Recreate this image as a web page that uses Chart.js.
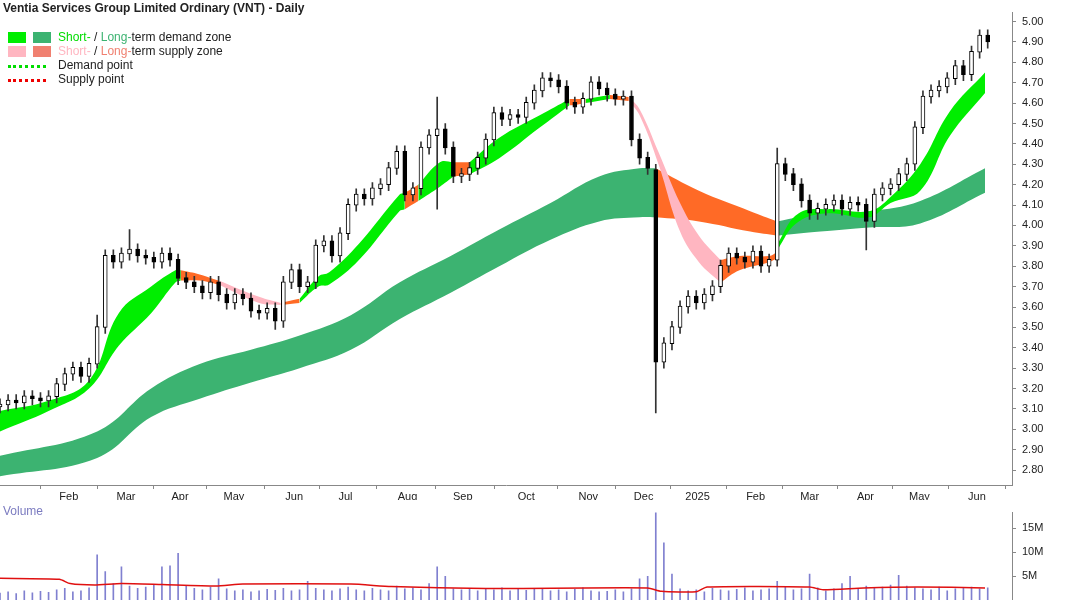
<!DOCTYPE html>
<html><head><meta charset="utf-8">
<script src="https://cdn.jsdelivr.net/npm/chart.js@4/dist/chart.umd.min.js"></script>
<style>
body{margin:0;background:#fff;font-family:Arial,"Liberation Sans",sans-serif;overflow:hidden;}
#wrap{position:relative;width:1066px;height:600px;overflow:hidden;}
canvas{position:absolute;left:0;}
.t{position:absolute;font-size:12px;color:#222;white-space:nowrap;}
.sw{position:absolute;width:18px;height:11px;}
.dl{position:absolute;width:38px;border-top:3px dotted;}
</style></head><body>
<div id="wrap">
<canvas id="price" style="top:0" width="1066" height="500"></canvas>
<canvas id="vol" style="top:500px" width="1066" height="113"></canvas>
<div class="t" style="left:3px;top:1px;font-weight:bold">Ventia Services Group Limited Ordinary (VNT) - Daily</div>
<div class="sw" style="left:8px;top:32px;background:#00ee00"></div>
<div class="sw" style="left:33px;top:32px;background:#3cb371"></div>
<div class="t" style="left:58px;top:30px"><span style="color:#00dd00">Short-</span> / <span style="color:#3cb371">Long-</span>term demand zone</div>
<div class="sw" style="left:8px;top:46px;background:#ffb6c1"></div>
<div class="sw" style="left:33px;top:46px;background:#f08070"></div>
<div class="t" style="left:58px;top:44px"><span style="color:#ffb6c1">Short-</span> / <span style="color:#f08070">Long-</span>term supply zone</div>
<div class="dl" style="left:8px;top:65px;border-color:#00dd00"></div>
<div class="t" style="left:58px;top:58px">Demand point</div>
<div class="dl" style="left:8px;top:79px;border-color:#ee0000"></div>
<div class="t" style="left:58px;top:72px">Supply point</div>
<div class="t" style="left:3px;top:504px;color:#7b7bc0">Volume</div>
</div>
<script>
// one candle per 3 trading days, x = day index
const closes = [3.12,3.14,3.13,3.16,3.15,3.14,3.16,3.22,3.27,3.30,3.26,3.32,3.50,3.85,3.82,3.86,3.88,3.85,3.84,3.82,
3.86,3.83,3.74,3.72,3.70,3.67,3.72,3.66,3.62,3.66,3.64,3.58,3.57,3.59,3.53,3.72,3.78,3.70,3.72,3.90,
3.92,3.85,3.96,4.10,4.15,4.13,4.18,4.20,4.28,4.36,4.15,4.18,4.38,4.44,4.47,4.38,4.24,4.25,4.28,4.33,
4.42,4.55,4.52,4.54,4.53,4.60,4.66,4.72,4.71,4.68,4.60,4.58,4.62,4.70,4.67,4.64,4.62,4.63,4.42,4.33,
4.28,3.33,3.42,3.50,3.60,3.65,3.62,3.66,3.70,3.80,3.86,3.84,3.82,3.87,3.80,3.83,4.30,4.25,4.20,4.12,
4.06,4.08,4.10,4.12,4.08,4.11,4.10,4.02,4.15,4.18,4.20,4.25,4.30,4.48,4.63,4.66,4.68,4.72,4.78,4.74,
4.85,4.93,4.90];
const highOverride = {16:3.98,54:4.63,96:4.38,12:3.56};
const lowOverride = {54:4.08,81:3.08,107:3.88,34:3.49,12:3.30};
const volumes = [1.5,1.8,1.4,2.0,1.6,1.9,1.7,2.2,2.5,1.8,2.0,2.6,9.5,6.0,3.5,7.0,3.0,2.5,2.8,3.2,
7.0,7.2,9.8,3.0,2.5,2.2,2.8,4.5,2.4,2.0,2.2,1.8,2.0,2.3,2.1,2.5,2.0,2.2,4.0,2.5,
2.2,2.0,2.4,2.8,2.2,2.0,2.5,2.2,2.0,3.0,2.4,2.6,2.2,3.5,7.0,5.0,2.4,2.2,2.5,2.0,
2.4,2.2,2.6,2.0,2.3,2.1,2.5,2.4,2.0,2.2,1.8,2.3,2.6,2.0,1.8,1.9,2.2,1.8,2.4,4.5,
5.0,19.0,12.0,5.5,2.4,2.0,2.2,1.8,2.5,2.2,2.0,2.3,2.6,2.0,2.2,2.4,4.0,2.8,2.2,2.4,
5.5,2.6,2.0,2.4,3.5,5.0,2.4,3.0,2.6,2.8,3.2,5.2,3.0,2.6,2.4,2.2,2.8,2.0,2.4,2.6,
2.8,2.4,2.6];
const volAvg = [[0,4.6],[22,4.4],[26,3.5],[35,3.2],[45,3.5],[60,3.3],[80,3.0],[90,3.4],[130,3.4],[145,2.9],
[180,2.5],[240,2.6],[245,1.9],[258,1.8],[262,2.8],[300,2.8],[305,2.2],[320,2.6],[340,2.8],[365,2.6]];
// [day, upper, lower]
const shortBand = [[0,3.09,2.99],[18,3.14,3.09],[33,3.24,3.20],[44,3.57,3.41],[56,3.70,3.57],[65,3.78,3.72],[67,3.78,3.73],
[74,3.76,3.73],[81,3.73,3.71],[96,3.65,3.62],[104,3.62,3.61],[111,3.64,3.62],[118,3.75,3.70],[122,3.77,3.71],
[133,3.91,3.83],[148,4.15,4.07],[150,4.16,4.08],[155,4.20,4.12],[163,4.31,4.19],[168,4.31,4.24],[174,4.31,4.25],
[185,4.43,4.33],[200,4.54,4.48],[211,4.62,4.59],[213,4.62,4.59],[217,4.62,4.60],[226,4.64,4.62],[233,4.63,4.61],
[237,4.57,4.54],[244,4.36,4.30],[252,4.11,3.97],[259,3.95,3.82],[267,3.83,3.72],[274,3.85,3.78],[285,3.85,3.82],
[288,3.87,3.84],[289,3.93,3.90],[296,4.06,4.02],[307,4.08,4.06],[322,4.07,4.04],[330,4.14,4.11],[341,4.30,4.17],
[352,4.56,4.44],[365,4.75,4.65]];
const shortZones = [[0,67,'g'],[67,81,'o'],[81,104,'p'],[104,111,'o'],[111,150,'g'],[150,155,'o'],[155,168,'g'],
[168,174,'o'],[174,211,'g'],[211,217,'o'],[217,226,'g'],[226,233,'o'],[233,267,'p'],[267,288,'o'],[288,365,'g']];
const longBand = [[0,2.87,2.77],[36,2.99,2.86],[56,3.20,3.06],[74,3.32,3.15],[93,3.39,3.23],[111,3.46,3.30],
[130,3.56,3.39],[148,3.72,3.54],[167,3.85,3.67],[185,3.98,3.80],[204,4.11,3.93],[222,4.24,4.02],[237,4.28,4.04],
[243,4.28,4.04],[259,4.17,4.02],[278,4.07,3.97],[288,4.02,3.95],[304,4.06,3.97],[322,4.07,3.99],[341,4.12,4.01],
[365,4.28,4.16]];
const longZones = [[0,243,'L'],[243,288,'O'],[288,365,'L']];
const monthDays = [25.5,46.7,66.7,86.7,109,128,151,171.5,195,218,238.5,258.5,280,300,320.7,340.7,362];
const monthLabels = ['Feb','Mar','Apr','May','Jun','Jul','Aug','Sep','Oct','Nov','Dec','2025','Feb','Mar','Apr','May','Jun'];
const priceTicks = [];
for (let v = 280; v <= 500; v += 10) priceTicks.push(v / 100);

const zoneColor = {g:'#00ee00', o:'#ff6a26', p:'#ffb6c1', L:'#3cb371', O:'#ff6a26'};
const step = 3;

var bandSets = [];
function addBand(band, zones, ord) {
  zones.forEach(function(z) {
    var pts = band.filter(function(p){ return p[0] >= z[0] && p[0] <= z[1]; });
    var c = zoneColor[z[2]];
    bandSets.push({type:'line', order:ord, data:pts.map(function(p){return {x:p[0], y:p[1]};}),
      borderWidth:0, pointRadius:0, tension:0.4, fill:false, borderColor:c});
    bandSets.push({type:'line', order:ord, data:pts.map(function(p){return {x:p[0], y:p[2]};}),
      borderWidth:0, pointRadius:0, tension:0.4, fill:'-1', backgroundColor:c, borderColor:c});
  });
}
addBand(longBand, longZones, 4);
addBand(shortBand, shortZones, 3);

var wicks = [], bodies = [], bodyFill = [];
for (var i = 0; i < closes.length; i++) {
  var o = i == 0 ? closes[0] - 0.01 : closes[i - 1];
  if (i == 81) o = 4.27;
  var c = closes[i];
  var hi = highOverride[i] != null ? highOverride[i] : Math.max(o, c) + 0.03;
  var lo = lowOverride[i] != null ? lowOverride[i] : Math.min(o, c) - 0.03;
  wicks.push({x:i * step, y:[lo, hi]});
  bodies.push({x:i * step, y:[Math.min(o, c), Math.max(o, c) + 0.004]});
  bodyFill.push(c >= o ? '#ffffff' : '#000000');
}

function fixWidth(w) { return function(a){ a.width = w; }; }

new Chart(document.getElementById('price'), {
  type:'bar',
  data:{datasets: bandSets.concat([
    {type:'bar', order:1, data:wicks, backgroundColor:'#333', barThickness:1, grouped:false},
    {type:'bar', order:0, data:bodies, backgroundColor:bodyFill, borderColor:'#000', borderWidth:1, borderSkipped:false, barThickness:4, grouped:false}
  ])},
  options:{
    responsive:false, animation:false,
    layout:{padding:{top:0, left:0, right:0}},
    plugins:{legend:{display:false}, tooltip:{enabled:false}},
    scales:{
      x:{type:'linear', min:0, max:375, offset:false,
        afterBuildTicks:function(a){ a.ticks = monthDays.map(function(v){return {value:v};}); },
        afterFit:function(a){ a.height = 15; },
        ticks:{autoSkip:false, maxRotation:0, font:{size:11, family:'Arial'}, color:'#222', padding:1,
          callback:function(v, idx){ return monthLabels[idx]; }},
        grid:{drawOnChartArea:false, tickLength:4, color:'#888'}, border:{color:'#888'}},
      y:{position:'right', min:2.727, max:5.044,
        afterBuildTicks:function(a){ a.ticks = priceTicks.map(function(v){return {value:v};}); },
        afterFit:fixWidth(54),
        ticks:{font:{size:11, family:'Arial'}, color:'#222', padding:6, callback:function(v){ return v.toFixed(2); }},
        grid:{drawOnChartArea:false, tickLength:4, color:'#888'}, border:{color:'#888'}}
    }
  }
});

new Chart(document.getElementById('vol'), {
  type:'bar',
  data:{datasets:[
    {type:'line', order:0, data:volAvg.map(function(p){return {x:p[0], y:p[1]};}), borderColor:'#e01010', borderWidth:1.5, pointRadius:0, tension:0.2},
    {type:'bar', order:1, data:volumes.map(function(v, i){return {x:i * step, y:v};}), backgroundColor:'#8080d0', barThickness:1}
  ]},
  options:{
    responsive:false, animation:false,
    layout:{padding:{top:3, bottom:0}},
    plugins:{legend:{display:false}, tooltip:{enabled:false}},
    scales:{
      x:{type:'linear', min:0, max:375, offset:false, display:false},
      y:{position:'right', min:0, max:18.3,
        afterBuildTicks:function(a){ a.ticks = [5,10,15].map(function(v){return {value:v};}); },
        afterFit:fixWidth(54),
        ticks:{font:{size:11, family:'Arial'}, color:'#222', padding:6, callback:function(v){ return v + 'M'; }},
        grid:{drawOnChartArea:false, tickLength:4, color:'#888'}, border:{color:'#888'}}
    }
  }
});
</script>
</body></html>
